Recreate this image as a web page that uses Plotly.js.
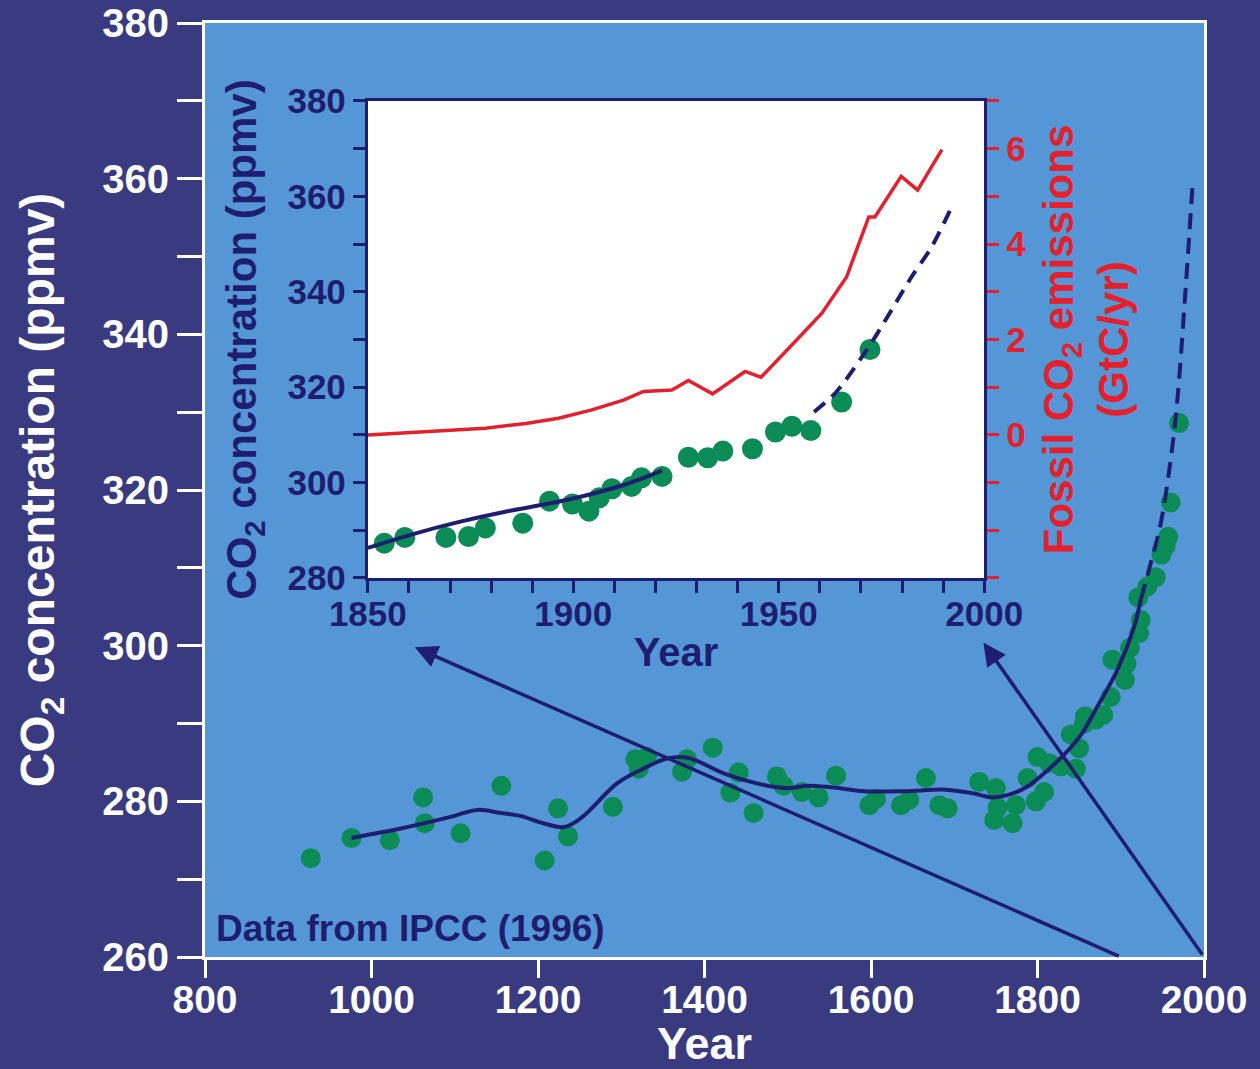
<!DOCTYPE html>
<html>
<head>
<meta charset="utf-8">
<script src="https://cdn.plot.ly/plotly-3.0.1.min.js"></script>
<style>
html,body{margin:0;padding:0;background:#393a80;}
#chart{width:1260px;height:1069px;}
</style>
</head>
<body>
<div id="chart"></div>
<script>
// ---------- Main panel: ice-core CO2 (800-2000) ----------
const mainYears = [927, 976, 1022, 1062, 1064, 1107, 1156, 1208, 1224, 1236, 1290, 1317, 1321, 1331, 1373, 1379,
  1410, 1431, 1441, 1459, 1487, 1495, 1517, 1537, 1558, 1598, 1606, 1636, 1646, 1666, 1682, 1692,
  1730, 1748, 1750, 1752, 1770, 1774, 1788, 1798, 1800, 1808, 1814, 1828, 1840, 1846, 1850, 1856,
  1857, 1870, 1879, 1888, 1890, 1905, 1907, 1911, 1921, 1922, 1924, 1932, 1942, 1949, 1954, 1957, 1960, 1970];
const mainCO2 = [272.7, 275.3, 275.0, 280.5, 277.2, 275.9, 282.0, 272.4, 279.1, 275.5, 279.3, 285.4, 284.2, 285.7, 283.8, 285.4,
  286.9, 281.1, 283.7, 278.5, 283.2, 282.0, 281.2, 280.5, 283.3, 279.5, 280.3, 279.5, 280.2, 283.0, 279.5, 279.1,
  282.5, 277.6, 281.7, 279.2, 277.2, 279.5, 283.0, 280.0, 285.7, 281.2, 284.9, 284.5, 288.6, 284.2, 286.8, 290.0,
  290.9, 290.5, 291.1, 293.4, 298.2, 295.6, 297.7, 299.7, 306.2, 301.6, 303.3, 307.6, 308.8, 311.7, 312.8, 314.0, 318.4, 328.6];

const fitYears = [976, 1035, 1095, 1127, 1155, 1180, 1203, 1231, 1251, 1295, 1323, 1355, 1380, 1423, 1463, 1487, 1503,
  1523, 1552, 1592, 1640, 1690, 1724, 1744, 1764, 1788, 1808, 1832, 1852, 1872, 1896, 1916, 1924];
const fitCO2 = [275.3, 276.5, 278.0, 278.9, 278.5, 278.1, 277.3, 276.7, 277.8, 282.3, 284.0, 285.5, 285.6, 283.6, 282.3, 281.8, 281.7,
  282.0, 281.8, 281.3, 281.3, 281.5, 281.0, 280.5, 280.8, 281.9, 283.6, 286.0, 288.5, 292.2, 296.9, 302.4, 305.9];

const fitDashYears = [1924, 1936, 1948, 1960, 1968, 1977, 1986];
const fitDashCO2 = [305.9, 310.6, 315.7, 323.9, 331.6, 344.4, 358.8];

// ---------- Inset: 1850-2000 ----------
const insetYears = [1854, 1859, 1869, 1874.5, 1878.6, 1887.7, 1894.2, 1899.8, 1903.8, 1906.3, 1909.4, 1914.2, 1916.6,
  1921.6, 1928, 1932.7, 1936.4, 1943.6, 1949.2, 1953.2, 1957.8, 1965.3, 1972.2];
const insetCO2 = [287.3, 288.5, 288.5, 288.7, 290.5, 291.5, 296.1, 295.5, 294.0, 296.8, 298.7, 299.2, 301.0,
  301.3, 305.3, 305.2, 306.6, 307.1, 310.6, 311.8, 310.9, 316.9, 327.9];

const insetFitYears = [1850, 1861, 1872, 1884, 1893.5, 1903, 1913, 1921.6];
const insetFitCO2 = [286.3, 289.2, 291.7, 294.0, 295.5, 297.3, 299.7, 302.5];

const insetDashYears = [1958.6, 1964, 1972.4, 1982.3, 1987.2, 1991.7];
const insetDashCO2 = [314.8, 319.0, 329.1, 343.1, 349.4, 357.1];

const emisYears = [1850, 1868.7, 1878.6, 1888.5, 1896.4, 1904.3, 1912.2, 1917.1, 1924, 1928, 1933.9, 1941.8, 1945.7,
  1953.6, 1960.5, 1966.5, 1971.9, 1973.4, 1979.8, 1983.8, 1989.7];
const emisValues = [0.0, 0.09, 0.14, 0.24, 0.35, 0.52, 0.73, 0.91, 0.94, 1.14, 0.86, 1.33, 1.21,
  1.92, 2.55, 3.31, 4.57, 4.57, 5.42, 5.13, 5.98];

// ---------- Ticks ----------
const mainXTicks = [800, 1000, 1200, 1400, 1600, 1800, 2000];
const mainYTicks = [260, 280, 300, 320, 340, 360, 380];
const insetXTicks = [1850, 1900, 1950, 2000];
const insetYTicks = [280, 300, 320, 340, 360, 380];
const emisTicks = [0, 2, 4, 6];

// ---------- Arrows linking inset to main axis ----------
const arrowTipYears = [1052, 1735];
const arrowTipCO2 = [299.8, 300.4];
const arrowTailYears = [1900, 2000];
const arrowTailCO2 = [260, 260];

const NAVY_BG = '#3a3a80';
const PLOT_BLUE = '#5597d6';
const GREEN = '#0b8b56';
const NAVY = '#1f1d6f';
const RED = '#e3202b';
const FONT = 'Liberation Sans, Arial, Helvetica, sans-serif';

const traces = [
  {x: mainYears, y: mainCO2, xaxis: 'x', yaxis: 'y', mode: 'markers', type: 'scatter',
   marker: {color: GREEN, size: 20, line: {width: 0}}},
  {x: fitYears, y: fitCO2, xaxis: 'x', yaxis: 'y', mode: 'lines', type: 'scatter',
   line: {color: NAVY, width: 4, shape: 'spline', smoothing: 1}},
  {x: fitDashYears, y: fitDashCO2, xaxis: 'x', yaxis: 'y', mode: 'lines', type: 'scatter',
   line: {color: NAVY, width: 4, shape: 'spline', smoothing: 1, dash: '16px,9px'}},
  {x: insetYears, y: insetCO2, xaxis: 'x2', yaxis: 'y2', mode: 'markers', type: 'scatter',
   marker: {color: GREEN, size: 21, line: {width: 0}}},
  {x: insetFitYears, y: insetFitCO2, xaxis: 'x2', yaxis: 'y2', mode: 'lines', type: 'scatter',
   line: {color: NAVY, width: 4, shape: 'spline', smoothing: 0.8}},
  {x: insetDashYears, y: insetDashCO2, xaxis: 'x2', yaxis: 'y2', mode: 'lines', type: 'scatter',
   line: {color: NAVY, width: 4, shape: 'spline', smoothing: 0.8, dash: '14px,9px'}},
  {x: emisYears, y: emisValues, xaxis: 'x2', yaxis: 'y3', mode: 'lines', type: 'scatter',
   line: {color: RED, width: 3.5}}
];

const annotations = [
  {xref: 'paper', yref: 'paper', x: 0.009, y: 0.03, xanchor: 'left', yanchor: 'middle', showarrow: false,
   text: 'Data from IPCC (1996)', font: {family: FONT, size: 37, color: NAVY, weight: 'bold'}}
];
for (let i = 0; i < arrowTipYears.length; i++) {
  annotations.push({xref: 'x', yref: 'y', axref: 'x', ayref: 'y',
    x: arrowTipYears[i], y: arrowTipCO2[i], ax: arrowTailYears[i], ay: arrowTailCO2[i],
    text: ' ', font: {size: 2}, showarrow: true, arrowhead: 2, arrowsize: 1.3, arrowwidth: 3.5, arrowcolor: NAVY, standoff: 0});
}

const layout = {
  width: 1260, height: 1069,
  paper_bgcolor: NAVY_BG, plot_bgcolor: PLOT_BLUE,
  margin: {l: 205, r: 56, t: 23, b: 112},
  showlegend: false,
  font: {family: FONT, weight: 'bold'},
  xaxis: {
    domain: [0, 1], anchor: 'y', range: [800, 2000], tickmode: 'array', tickvals: mainXTicks,
    ticks: 'outside', ticklen: 18, tickwidth: 3, tickcolor: 'white', ticklabelstandoff: -12,
    showline: true, linecolor: 'white', linewidth: 3, mirror: true,
    showgrid: false, zeroline: false,
    tickfont: {family: FONT, size: 39, color: 'white', weight: 'bold'},
    title: {text: 'Year', font: {family: FONT, size: 45, color: 'white', weight: 'bold'}, standoff: 7}
  },
  yaxis: {
    domain: [0, 1], anchor: 'x', range: [260, 380], tickmode: 'array', tickvals: mainYTicks,
    ticks: 'outside', ticklen: 25, tickwidth: 3, tickcolor: 'white',
    minor: {tick0: 260, dtick: 10, ticks: 'outside', ticklen: 25, tickwidth: 3, tickcolor: 'white', showgrid: false},
    showline: true, linecolor: 'white', linewidth: 3, mirror: true,
    showgrid: false, zeroline: false,
    tickfont: {family: FONT, size: 40, color: 'white', weight: 'bold'},
    title: {text: 'CO<sub>2</sub> concentration (ppmv)', font: {family: FONT, size: 48, color: 'white', weight: 'bold'}, standoff: 33}
  },
  xaxis2: {
    domain: [0.163, 0.78], anchor: 'y2', range: [1850, 2000], tickmode: 'array', tickvals: insetXTicks,
    ticks: 'outside', ticklen: 12, tickwidth: 3, tickcolor: NAVY, ticklabelstandoff: -9,
    minor: {tick0: 1850, dtick: 10, ticks: 'outside', ticklen: 12, tickwidth: 3, tickcolor: NAVY, showgrid: false},
    showline: true, linecolor: NAVY, linewidth: 3, mirror: true,
    showgrid: false, zeroline: false,
    tickfont: {family: FONT, size: 35, color: NAVY, weight: 'bold'},
    title: {text: 'Year', font: {family: FONT, size: 40, color: NAVY, weight: 'bold'}, standoff: 7}
  },
  yaxis2: {
    domain: [0.4058, 0.9165], anchor: 'x2', range: [280, 380], tickmode: 'array', tickvals: insetYTicks,
    ticks: 'outside', ticklen: 12, tickwidth: 3, tickcolor: NAVY,
    minor: {tick0: 280, dtick: 10, ticks: 'outside', ticklen: 12, tickwidth: 3, tickcolor: NAVY, showgrid: false},
    showline: true, linecolor: NAVY, linewidth: 3, mirror: true,
    showgrid: false, zeroline: false,
    tickfont: {family: FONT, size: 35, color: NAVY, weight: 'bold'},
    title: {text: 'CO<sub>2</sub> concentration (ppmv)', font: {family: FONT, size: 42, color: NAVY, weight: 'bold'}, standoff: 18}
  },
  yaxis3: {
    overlaying: 'y2', side: 'right', anchor: 'x2', range: [-3, 7], tickmode: 'array', tickvals: emisTicks,
    ticks: 'outside', ticklen: 12, tickwidth: 3, tickcolor: RED,
    minor: {tick0: -3, dtick: 1, ticks: 'outside', ticklen: 12, tickwidth: 3, tickcolor: RED, showgrid: false},
    showline: true, linecolor: NAVY, linewidth: 3,
    showgrid: false, zeroline: false,
    tickfont: {family: FONT, size: 35, color: RED, weight: 'bold'},
    title: {text: 'Fossil CO<sub>2</sub> emissions<br>(GtC/yr)', font: {family: FONT, size: 42, color: RED, weight: 'bold'}, standoff: 19}
  },
  shapes: [
    {type: 'rect', xref: 'x2', yref: 'y2', x0: 1850, x1: 2000, y0: 280, y1: 380,
     fillcolor: 'white', line: {width: 0}, layer: 'below'}
  ],
  annotations: annotations
};

Plotly.newPlot('chart', traces, layout, {displayModeBar: false, staticPlot: true});
</script>
</body>
</html>
